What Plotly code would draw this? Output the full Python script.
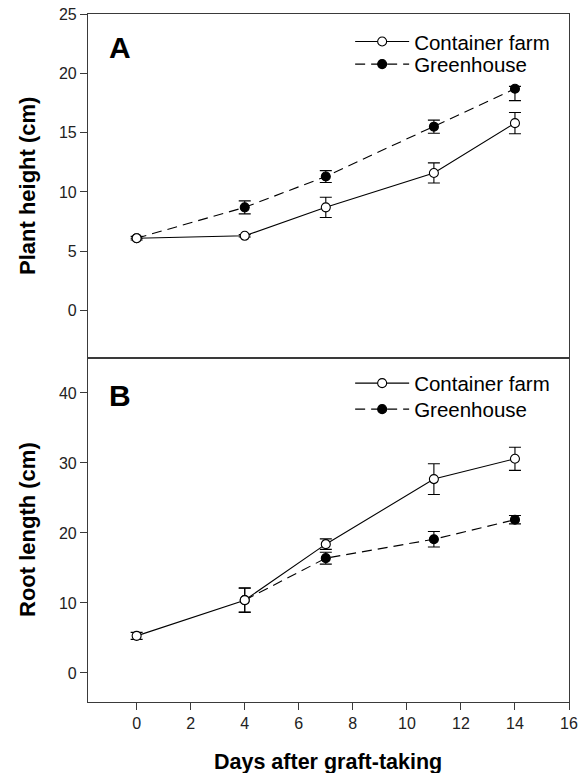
import plotly.graph_objects as go

days = [0, 4, 7, 11, 14]

# Panel A: plant height (cm)
height_container = [6.1, 6.3, 8.7, 11.6, 15.8]
height_container_err = [0.15, 0.1, 0.85, 0.85, 0.9]
height_green = [6.1, 8.7, 11.3, 15.5, 18.7]
height_green_err_plus = [0.0, 0.55, 0.5, 0.55, 0.2]
height_green_err_minus = [0.0, 0.55, 0.5, 0.55, 1.0]

# Panel B: root length (cm)
root_container = [5.3, 10.4, 18.4, 27.7, 30.6]
root_container_err = [0.5, 1.75, 0.75, 2.2, 1.65]
days_green_root = [4, 7, 11, 14]
root_green = [10.4, 16.4, 19.1, 21.9]
root_green_err = [1.7, 0.85, 1.1, 0.6]

x_ticks = [0, 2, 4, 6, 8, 10, 12, 14, 16]
height_ticks = [0, 5, 10, 15, 20, 25]
root_ticks = [0, 10, 20, 30, 40]

FONT = "Liberation Sans, Arial, sans-serif"
AX = "#3a3a3a"

def err(arr, minus=None):
    d = dict(type="data", array=arr, color="black", thickness=1.1, width=6, visible=True)
    if minus is not None:
        d["symmetric"] = False
        d["arrayminus"] = minus
    return d

open_marker = dict(symbol="circle", size=9, color="white", line=dict(color="black", width=1.1))
filled_marker = dict(symbol="circle", size=9, color="black", line=dict(color="black", width=1.1))
DASH = "10px,6px"

fig = go.Figure()

# Top panel
fig.add_trace(go.Scatter(x=days, y=height_green, mode="lines+markers", name="Greenhouse",
                         line=dict(color="black", width=1.1, dash=DASH), marker=filled_marker,
                         error_y=err(height_green_err_plus, height_green_err_minus),
                         xaxis="x2", yaxis="y2", legend="legend2"))
fig.add_trace(go.Scatter(x=days, y=height_container, mode="lines+markers", name="Container farm",
                         line=dict(color="black", width=1.1), marker=open_marker,
                         error_y=err(height_container_err),
                         xaxis="x2", yaxis="y2", legend="legend"))
# Bottom panel
fig.add_trace(go.Scatter(x=days_green_root, y=root_green, mode="lines+markers", name="Greenhouse",
                         line=dict(color="black", width=1.1, dash=DASH), marker=filled_marker,
                         error_y=err(root_green_err),
                         xaxis="x", yaxis="y", legend="legend4"))
fig.add_trace(go.Scatter(x=days, y=root_container, mode="lines+markers", name="Container farm",
                         line=dict(color="black", width=1.1), marker=open_marker,
                         error_y=err(root_container_err),
                         xaxis="x", yaxis="y", legend="legend3"))

tickfont = dict(family=FONT, size=16, color="#222222")
common_axis = dict(showline=True, linecolor=AX, linewidth=1.2, mirror=True, showgrid=False,
                   zeroline=False, ticks="outside", ticklen=7, tickcolor=AX, tickwidth=1.1,
                   tickfont=tickfont, ticklabeloverflow="allow", automargin=False)

LEG_X = 0.545
legend_common = dict(font=dict(family=FONT, size=20.5, color="black"), bgcolor="rgba(0,0,0,0)",
                     borderwidth=0, itemwidth=54, xanchor="left", yanchor="middle", x=LEG_X)

fig.update_layout(
    width=583, height=773,
    margin=dict(l=88, r=14, t=14, b=71, autoexpand=False),
    paper_bgcolor="white", plot_bgcolor="white",
    showlegend=True,
    xaxis=dict(common_axis, domain=[0, 1], range=[-1.8, 16], tickmode="array",
               tickvals=x_ticks, anchor="y"),
    yaxis=dict(common_axis, domain=[0, 0.5], range=[-4.15, 45], tickmode="array",
               tickvals=root_ticks, anchor="x"),
    xaxis2=dict(common_axis, domain=[0, 1], range=[-1.8, 16], ticks="", showticklabels=False,
                anchor="y2"),
    yaxis2=dict(common_axis, domain=[0.5, 1], range=[-4, 25], tickmode="array",
                tickvals=height_ticks, anchor="x2"),
    legend=dict(legend_common, y=0.9597),
    legend2=dict(legend_common, y=0.9269),
    legend3=dict(legend_common, y=0.4632),
    legend4=dict(legend_common, y=0.4254),
    annotations=[
        dict(text="<b>A</b>", xref="paper", yref="paper", x=0.066, y=0.952, showarrow=False,
             xanchor="center", yanchor="middle", font=dict(family=FONT, size=30, color="black")),
        dict(text="<b>B</b>", xref="paper", yref="paper", x=0.066, y=0.446, showarrow=False,
             xanchor="center", yanchor="middle", font=dict(family=FONT, size=30, color="black")),
        dict(text="<b>Plant height (cm)</b>", xref="paper", yref="paper", x=-0.1268, y=0.75,
             textangle=-90, showarrow=False, xanchor="center", yanchor="middle",
             font=dict(family=FONT, size=22, color="black")),
        dict(text="<b>Root length (cm)</b>", xref="paper", yref="paper", x=-0.1268, y=0.25,
             textangle=-90, showarrow=False, xanchor="center", yanchor="middle",
             font=dict(family=FONT, size=22, color="black")),
        dict(text="<b>Days after graft-taking</b>", xref="paper", yref="paper", x=0.498, y=-0.0868,
             showarrow=False, xanchor="center", yanchor="middle",
             font=dict(family=FONT, size=21.5, color="black")),
    ],
)

# remove the browser's default 8px body margin so the 583x773 figure fills the window exactly
fig.write_html("out.html", config={"displayModeBar": False},
               post_script="document.body.style.margin='0px';")
